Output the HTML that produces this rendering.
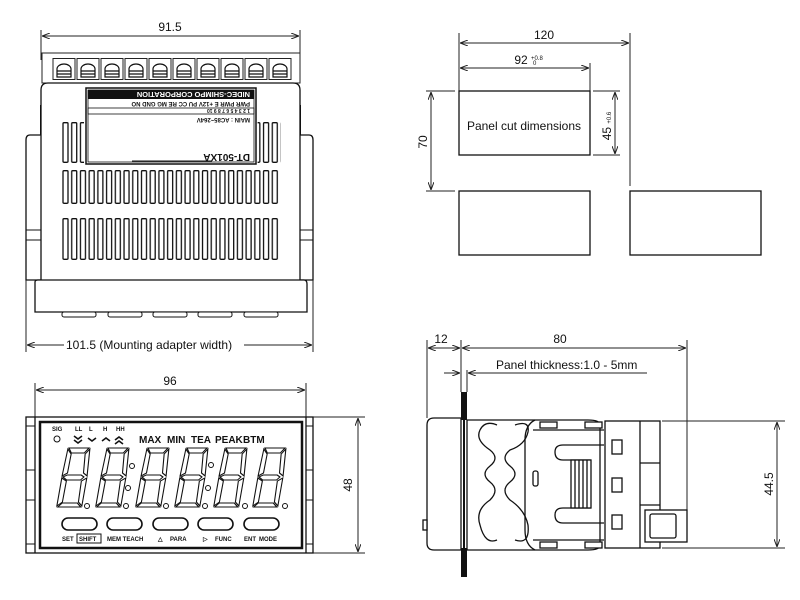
<!DOCTYPE html>
<html><head><meta charset="utf-8"><style>
body{margin:0;background:#fff}
svg{display:block}
text{font-family:"Liberation Sans",sans-serif;fill:#111}
</style></head><body>
<svg width="800" height="600" viewBox="0 0 800 600" xmlns="http://www.w3.org/2000/svg">
<defs>
<marker id="a" markerWidth="8" markerHeight="6" refX="8" refY="3" orient="auto-start-reverse" markerUnits="userSpaceOnUse"><path d="M0,0 L8,3 L0,6" fill="none" stroke="#222" stroke-width="1"/></marker>
<pattern id="s1" x="62" y="122" width="8.72" height="41" patternUnits="userSpaceOnUse"><rect x="1" y="0.7" width="5" height="39.6" rx="1" fill="#fff" stroke="#111" stroke-width="1.3"/></pattern>
<pattern id="s2" x="62" y="170" width="8.72" height="34" patternUnits="userSpaceOnUse"><rect x="1" y="0.7" width="5" height="32.6" rx="1" fill="#fff" stroke="#111" stroke-width="1.3"/></pattern>
<pattern id="s3" x="62" y="218" width="8.72" height="42" patternUnits="userSpaceOnUse"><rect x="1" y="0.7" width="5" height="40.6" rx="1" fill="#fff" stroke="#111" stroke-width="1.3"/></pattern>
<pattern id="term" x="52" y="58" width="24" height="22" patternUnits="userSpaceOnUse"><rect x="1" y="0.5" width="22" height="21" fill="#fff" stroke="#222"/><path d="M5,19 v-8 a7,5 0 0 1 14,0 v8 z M5,13 h14 M5,16 h14" fill="none" stroke="#111" stroke-width="1.2"/></pattern>
<g id="dg" fill="none" stroke="#111" stroke-width="1.1" transform="skewX(-8) translate(8 0)">
<polygon points="6,0 26,0 22,5 9,5"/>
<polygon points="27,1 28,28 24,25 23,6"/>
<polygon points="5,1 9,6 8,25 3,28"/>
<polygon points="4,29 8,27 22,27 25,29 22,32 8,32"/>
<polygon points="28,30 27,58 23,54 23,33"/>
<polygon points="3,30 8,33 7,54 2,58"/>
<polygon points="3,59 7,55 22,55 26,59"/>
</g>
</defs>

<!-- ===== Top-left: top view ===== -->
<g stroke="#222" fill="none" stroke-width="1">
<line x1="41" y1="30" x2="41" y2="60"/><line x1="300" y1="30" x2="300" y2="60"/>
<line x1="42" y1="36" x2="299" y2="36" marker-start="url(#a)" marker-end="url(#a)"/>
</g>
<text x="170" y="31" font-size="12" text-anchor="middle">91.5</text>
<rect x="42" y="53" width="258" height="30" fill="#fff" stroke="#222"/>
<rect x="52" y="58" width="240" height="22" fill="url(#term)"/>
<path d="M41,135 H30 Q26,135 26,140 V280 H41" fill="#fff" stroke="#111" stroke-width="1.3"/>
<path d="M300,135 H309 Q313,135 313,140 V280 H300" fill="#fff" stroke="#111" stroke-width="1.3"/>
<line x1="26" y1="230" x2="41" y2="230" stroke="#111"/><line x1="26" y1="240" x2="41" y2="240" stroke="#111"/>
<line x1="300" y1="230" x2="313" y2="230" stroke="#111"/><line x1="300" y1="240" x2="313" y2="240" stroke="#111"/>
<rect x="40" y="105" width="3" height="30" fill="#111"/><rect x="298" y="105" width="3" height="30" fill="#111"/>
<path d="M41,280 V90 Q41,83 48,83 H293 Q300,83 300,90 V280" fill="#fff" stroke="#111" stroke-width="1.3"/>
<rect x="86" y="88" width="170" height="76" fill="#fff" stroke="#111" stroke-width="1.5"/>
<rect x="88" y="90" width="166" height="72" fill="none" stroke="#111" stroke-width="0.8"/>
<g transform="rotate(180 171 126)">
<rect x="88" y="153" width="166" height="9" fill="#111"/>
<text x="92" y="160" font-size="7.5" font-weight="bold" style="fill:#fff">NIDEC-SHIMPO CORPORATION</text>
<text x="92" y="150" font-size="6" font-weight="bold">PWR PWR  E  +12V  PU  CC  RE  MG  GND  NO</text>
<rect x="88" y="138" width="166" height="6" fill="none" stroke="#111" stroke-width="0.8"/>
<text x="92" y="143" font-size="5" font-weight="bold">1    2    3    4    5    6    7    8    9    10</text>
<text x="92" y="134" font-size="6" font-weight="bold">MAIN : AC85~264V</text>
<text x="92" y="98" font-size="10" font-weight="bold">DT-501XA</text>
<line x1="130" y1="91" x2="210" y2="91" stroke="#111"/>
</g>
<rect x="62" y="122" width="22" height="41" fill="url(#s1)"/>
<rect x="257.6" y="122" width="23" height="41" fill="url(#s1)"/>
<rect x="62" y="170" width="218" height="34" fill="url(#s2)"/>
<rect x="62" y="218" width="218" height="42" fill="url(#s3)"/>
<path d="M35,282 Q35,280 38,280 H304 Q307,280 307,284 V312 H35 Z" fill="#fff" stroke="#111" stroke-width="1.3"/>
<g fill="#fff" stroke="#111"><rect x="62" y="312" width="34" height="5" rx="2"/><rect x="108" y="312" width="34" height="5" rx="2"/><rect x="153" y="312" width="34" height="5" rx="2"/><rect x="198" y="312" width="34" height="5" rx="2"/><rect x="244" y="312" width="34" height="5" rx="2"/></g>
<g stroke="#222" fill="none"><line x1="26" y1="280" x2="26" y2="352"/><line x1="313" y1="280" x2="313" y2="352"/>
<line x1="27" y1="345" x2="312" y2="345" marker-start="url(#a)" marker-end="url(#a)"/></g>
<rect x="64" y="336" width="180" height="16" fill="#fff"/>
<text x="66" y="349" font-size="12">101.5 (Mounting adapter width)</text>

<!-- ===== Bottom-left: front ===== -->
<g stroke="#222" fill="none"><line x1="35" y1="383" x2="35" y2="417"/><line x1="306" y1="383" x2="306" y2="417"/>
<line x1="36" y1="390" x2="305" y2="390" marker-start="url(#a)" marker-end="url(#a)"/>
<line x1="313" y1="417" x2="365" y2="417"/><line x1="313" y1="553" x2="365" y2="553"/>
<line x1="358" y1="418" x2="358" y2="552" marker-start="url(#a)" marker-end="url(#a)"/></g>
<text x="170" y="385" font-size="12" text-anchor="middle">96</text>
<text transform="translate(352 485) rotate(-90)" font-size="12" text-anchor="middle">48</text>
<rect x="26" y="417" width="287" height="136" fill="#fff" stroke="#111" stroke-width="1.3"/>
<line x1="35" y1="417" x2="35" y2="553" stroke="#111" stroke-width="1.3"/><line x1="306" y1="417" x2="306" y2="553" stroke="#111" stroke-width="1.3"/>
<g stroke="#111"><line x1="26" y1="426" x2="35" y2="426"/><line x1="26" y1="470" x2="35" y2="470"/><line x1="26" y1="500" x2="35" y2="500"/><line x1="26" y1="544" x2="35" y2="544"/>
<line x1="306" y1="426" x2="313" y2="426"/><line x1="306" y1="470" x2="313" y2="470"/><line x1="306" y1="500" x2="313" y2="500"/><line x1="306" y1="544" x2="313" y2="544"/></g>
<rect x="40" y="422" width="262" height="126" fill="none" stroke="#111" stroke-width="2.5"/>
<g font-size="6" font-weight="bold"><text x="52" y="431">SIG</text><text x="75" y="431">LL</text><text x="89" y="431">L</text><text x="103" y="431">H</text><text x="116" y="431">HH</text></g>
<circle cx="57" cy="439" r="3" fill="none" stroke="#111"/>
<g fill="none" stroke="#111" stroke-width="1.6"><path d="M74,436 l4,3 l4,-3 M74,440 l4,3 l4,-3"/><path d="M88,438 l4,3 l4,-3"/><path d="M102,441 l4,-3 l4,3"/><path d="M115,440 l4,-3 l4,3 M115,444 l4,-3 l4,3"/></g>
<g font-size="10" font-weight="bold"><text x="139" y="443">MAX</text><text x="167" y="443">MIN</text><text x="191" y="443">TEA</text><text x="215" y="443">PEAK</text><text x="243" y="443">BTM</text></g>
<use href="#dg" x="55" y="448"/><use href="#dg" x="94" y="448"/><use href="#dg" x="134" y="448"/><use href="#dg" x="173" y="448"/><use href="#dg" x="212" y="448"/><use href="#dg" x="251" y="448"/>
<g fill="none" stroke="#111"><circle cx="87" cy="506" r="2.5"/><circle cx="126" cy="506" r="2.5"/><circle cx="166" cy="506" r="2.5"/><circle cx="205" cy="506" r="2.5"/><circle cx="245" cy="506" r="2.5"/><circle cx="285" cy="506" r="2.5"/>
<circle cx="132" cy="466" r="2.5"/><circle cx="128" cy="488" r="2.5"/><circle cx="211" cy="465" r="2.5"/><circle cx="208" cy="488" r="2.5"/></g>
<g fill="none" stroke="#111" stroke-width="1.6"><rect x="62" y="518" width="35" height="12" rx="6"/><rect x="107" y="518" width="35" height="12" rx="6"/><rect x="153" y="518" width="35" height="12" rx="6"/><rect x="198" y="518" width="35" height="12" rx="6"/><rect x="244" y="518" width="35" height="12" rx="6"/></g>
<g font-size="6" font-weight="bold"><text x="62" y="541">SET</text><rect x="77" y="534" width="24" height="9" fill="none" stroke="#111"/><text x="79" y="541">SHIFT</text><text x="107" y="541">MEM TEACH</text><text x="158" y="541">△</text><text x="170" y="541">PARA</text><text x="203" y="541">▷</text><text x="215" y="541">FUNC</text><text x="244" y="541">ENT</text><text x="259" y="541">MODE</text></g>

<!-- ===== Top-right: panel cut ===== -->
<g stroke="#222" fill="none">
<line x1="459" y1="33" x2="459" y2="91"/><line x1="630" y1="33" x2="630" y2="186"/><line x1="590" y1="63" x2="590" y2="91"/>
<line x1="460" y1="43" x2="629" y2="43" marker-start="url(#a)" marker-end="url(#a)"/>
<line x1="460" y1="68" x2="589" y2="68" marker-start="url(#a)" marker-end="url(#a)"/>
<line x1="426" y1="91" x2="455" y2="91"/><line x1="426" y1="191" x2="455" y2="191"/>
<line x1="431" y1="92" x2="431" y2="190" marker-start="url(#a)" marker-end="url(#a)"/>
<line x1="593" y1="91" x2="620" y2="91"/><line x1="593" y1="155" x2="620" y2="155"/>
<line x1="615" y1="92" x2="615" y2="154" marker-start="url(#a)" marker-end="url(#a)"/>
</g>
<text x="544" y="39" font-size="12" text-anchor="middle">120</text>
<text x="521" y="64" font-size="12" text-anchor="middle">92</text><text x="531" y="60" font-size="6">+0.8</text><text x="533" y="65" font-size="6">0</text>
<text transform="translate(427 142) rotate(-90)" font-size="12" text-anchor="middle">70</text>
<text transform="translate(611 126) rotate(-90)" font-size="12" text-anchor="middle">45 <tspan font-size="6">+0.6</tspan></text>
<g fill="#fff" stroke="#111" stroke-width="1.3"><rect x="459" y="91" width="131" height="64"/><rect x="459" y="191" width="131" height="64"/><rect x="630" y="191" width="131" height="64"/></g>
<text x="524" y="130" font-size="12" text-anchor="middle">Panel cut dimensions</text>

<!-- ===== Bottom-right: side view ===== -->
<g stroke="#222" fill="none">
<line x1="427" y1="340" x2="427" y2="418"/><line x1="461" y1="340" x2="461" y2="392"/><line x1="687" y1="340" x2="687" y2="510"/>
<line x1="428" y1="348" x2="460" y2="348" marker-start="url(#a)" marker-end="url(#a)"/>
<line x1="462" y1="348" x2="686" y2="348" marker-start="url(#a)" marker-end="url(#a)"/>
<line x1="467" y1="370" x2="467" y2="392"/>
<line x1="444" y1="373" x2="460" y2="373" marker-end="url(#a)"/>
<line x1="647" y1="373" x2="468" y2="373" marker-end="url(#a)"/>
<line x1="662" y1="421" x2="785" y2="421"/><line x1="662" y1="548" x2="785" y2="548"/>
<line x1="777" y1="422" x2="777" y2="547" marker-start="url(#a)" marker-end="url(#a)"/>
</g>
<text x="441" y="343" font-size="12" text-anchor="middle">12</text>
<text x="560" y="343" font-size="12" text-anchor="middle">80</text>
<text x="496" y="369" font-size="12">Panel thickness:1.0 - 5mm</text>
<text transform="translate(773 484) rotate(-90)" font-size="12" text-anchor="middle">44.5</text>
<g fill="#fff" stroke="#111" stroke-width="1.3">
<path d="M461,418 H434 Q427,418 427,425 V543 Q427,550 434,550 H461 Z"/>
<rect x="423" y="520" width="4" height="10"/>
<rect x="605" y="421" width="55" height="127"/>
<rect x="645" y="510" width="42" height="32"/>
<rect x="650" y="514" width="26" height="24" rx="2"/>
<line x1="640" y1="421" x2="640" y2="548"/><line x1="640" y1="463" x2="660" y2="463"/><line x1="640" y1="505" x2="660" y2="505"/>
<path d="M467,420 H588 Q600,420 600,425 V545 Q600,550 588,550 H467 Z"/>
<path d="M497,425 Q485,420 480,430 Q475,440 490,450 Q500,458 490,466 Q480,474 490,482 Q500,490 490,500 Q475,510 480,525 Q485,545 497,540" fill="none"/>
<path d="M515,425 Q530,420 528,432 Q525,445 510,450 Q500,458 510,466 Q520,474 510,482 Q500,490 510,500 Q525,510 528,525 Q530,545 515,540" fill="none"/>
<path d="M535,420 Q525,425 525,440 V530 Q525,545 535,550" fill="none"/>
<path d="M533,430 H604 M533,540 H604" fill="none"/>
<rect x="540" y="422" width="17" height="6"/><rect x="585" y="422" width="17" height="6"/>
<rect x="540" y="542" width="17" height="6"/><rect x="585" y="542" width="17" height="6"/>
<path d="M604,445 H563 Q555,445 555,452 Q555,460 563,460 H590 V508 H563 Q555,508 555,515 Q555,523 563,523 H604" fill="none"/>
<rect x="571" y="460" width="20" height="48" fill="#fff"/>
<line x1="575" y1="460" x2="575" y2="508"/><line x1="579" y1="460" x2="579" y2="508"/><line x1="583" y1="460" x2="583" y2="508"/><line x1="587" y1="460" x2="587" y2="508"/>
<rect x="533" y="471" width="5" height="15" rx="2"/>
<rect x="612" y="440" width="10" height="14"/><rect x="612" y="478" width="10" height="14"/><rect x="612" y="515" width="10" height="14"/>
</g>
<rect x="461" y="392" width="6" height="28" fill="#111"/>
<rect x="461" y="548" width="6" height="29" fill="#111"/>
<line x1="464" y1="420" x2="464" y2="548" stroke="#111" stroke-width="2"/>
</svg>
</body></html>
